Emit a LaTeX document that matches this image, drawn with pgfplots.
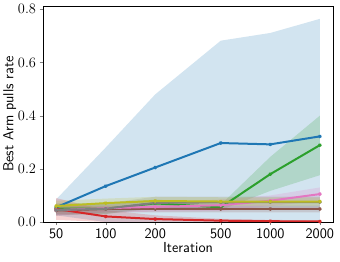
\documentclass[border=0pt]{standalone}
\usepackage{pgfplots}
\pgfplotsset{compat=1.18}
\definecolor{tabblue}{HTML}{1F77B4}
\definecolor{tabgreen}{HTML}{2CA02C}
\definecolor{tabred}{HTML}{D62728}
\definecolor{tabbrown}{HTML}{8C564B}
\definecolor{tabpink}{HTML}{E377C2}
\definecolor{tabgray}{HTML}{7F7F7F}
\definecolor{tabolive}{HTML}{BCBD22}
\begin{document}
\begin{tikzpicture}
\begin{axis}[
  at={(43pt,40pt)}, anchor=south west,
  width=290pt, height=216pt, scale only axis,
  xmode=log, xmin=41.6, xmax=2404, ymin=0, ymax=0.8124,
  xtick={50,100,200,500,1000,2000},
  xticklabels={50,100,200,500,1000,2000},
  minor xtick={},
  ytick={0,0.2,0.4,0.6,0.8},
  yticklabel style={/pgf/number format/.cd, fixed, fixed zerofill, precision=1},
  xticklabel style={font=\fontsize{14.5}{16}\selectfont\sffamily},
  ticklabel style={font=\fontsize{14.5}{16}\selectfont},
  tick align=outside, xtick pos=bottom, ytick pos=left,
  major tick length=3.5pt,
  xlabel={\sffamily Iteration}, ylabel={\sffamily Best Arm pulls rate},
  label style={font=\fontsize{14.5}{16}\selectfont},
  xlabel style={yshift=4pt}, ylabel style={yshift=-5pt},
  every axis plot/.append style={line width=2pt},
  mark options={solid, scale=0.8},
  axis line style={line width=0.6pt},
]
% bands
\addplot[draw=none, fill=tabblue, fill opacity=0.2, forget plot] coordinates {(50,0.085) (100,0.28) (200,0.48) (500,0.682) (1000,0.711) (2000,0.764) (2000,0) (1000,0) (500,0) (200,0) (100,0) (50,0.025)} -- cycle;
\addplot[draw=none, fill=tabgreen, fill opacity=0.2, forget plot] coordinates {(50,0.07) (100,0.07) (200,0.085) (500,0.065) (1000,0.245) (2000,0.40) (2000,0.176) (1000,0.117) (500,0.045) (200,0.055) (100,0.03) (50,0.03)} -- cycle;
\addplot[draw=none, fill=tabred, fill opacity=0.2, forget plot] coordinates {(50,0.09) (100,0.045) (200,0.025) (500,0.012) (1000,0.008) (2000,0.006) (2000,0) (1000,0) (500,0) (200,0) (100,0) (50,0.008)} -- cycle;
\addplot[draw=none, fill=tabbrown, fill opacity=0.2, forget plot] coordinates {(50,0.06) (100,0.062) (200,0.062) (500,0.062) (1000,0.062) (2000,0.062) (2000,0.036) (1000,0.036) (500,0.036) (200,0.036) (100,0.036) (50,0.024)} -- cycle;
\addplot[draw=none, fill=tabpink, fill opacity=0.2, forget plot] coordinates {(50,0.065) (100,0.068) (200,0.075) (500,0.085) (1000,0.1) (2000,0.13) (2000,0.08) (1000,0.06) (500,0.041) (200,0.039) (100,0.036) (50,0.025)} -- cycle;
\addplot[draw=none, fill=tabgray, fill opacity=0.2, forget plot] coordinates {(50,0.065) (100,0.07) (200,0.095) (500,0.095) (1000,0.095) (2000,0.095) (2000,0.055) (1000,0.055) (500,0.055) (200,0.05) (100,0.03) (50,0.025)} -- cycle;
\addplot[draw=none, fill=tabolive, fill opacity=0.2, forget plot] coordinates {(50,0.08) (100,0.088) (200,0.095) (500,0.093) (1000,0.093) (2000,0.093) (2000,0.061) (1000,0.061) (500,0.061) (200,0.063) (100,0.054) (50,0.04)} -- cycle;
% lines
\addplot[tabblue, mark=star] coordinates {(50,0.055) (100,0.135) (200,0.205) (500,0.297) (1000,0.292) (2000,0.322)};
\addplot[tabgreen, mark=star] coordinates {(50,0.05) (100,0.05) (200,0.07) (500,0.055) (1000,0.18) (2000,0.289)};
\addplot[tabred, mark=star] coordinates {(50,0.049) (100,0.021) (200,0.011) (500,0.005) (1000,0.003) (2000,0.002)};
\addplot[tabbrown, mark=star] coordinates {(50,0.043) (100,0.049) (200,0.049) (500,0.049) (1000,0.049) (2000,0.049)};
\addplot[tabpink, mark=star] coordinates {(50,0.045) (100,0.052) (200,0.057) (500,0.063) (1000,0.08) (2000,0.105)};
\addplot[tabgray, mark=star] coordinates {(50,0.045) (100,0.05) (200,0.072) (500,0.074) (1000,0.075) (2000,0.075)};
\addplot[tabolive, mark=star] coordinates {(50,0.06) (100,0.071) (200,0.079) (500,0.077) (1000,0.077) (2000,0.077)};
\end{axis}
\pgfresetboundingbox
\path (0,0) rectangle (340pt,262pt);
\end{tikzpicture}
\end{document}
